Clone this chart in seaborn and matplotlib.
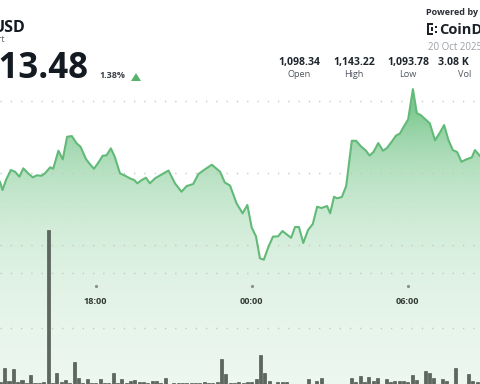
import numpy as np
import pandas as pd
import matplotlib
matplotlib.use("Agg")
import matplotlib.pyplot as plt
from matplotlib.patches import PathPatch, Polygon, Rectangle
import seaborn as sns

# ---------------- data ----------------
# price line: minutes relative to 20 Oct 00:00, price in USD
price_minutes = [-581, -575, -567, -556, -546, -536, -527, -516, -505, -496,
                 -485, -477, -465, -458, -446, -436, -426, -415, -404, -395,
                 -382, -373, -364, -354, -344, -335, -325, -316, -304, -292,
                 -281, -271, -264, -254, -244, -235, -223, -212, -192, -177,
                 -162, -150, -135, -123, -108, -92, -73, -62, -50, -35,
                 -21, -10, 0, 10, 19, 28, 38, 49, 61, 71,
                 81, 91, 100, 109, 119, 130, 141, 151, 161, 174,
                 181, 190, 197, 208, 218, 231, 241, 252, 263, 272,
                 281, 292, 303, 312, 323, 333, 342, 351, 361, 372,
                 381, 390, 401, 411, 423, 434, 444, 454, 464, 474,
                 484, 497, 508, 515, 527]
price_values = [1117.59, 1115.30, 1118.06, 1120.83, 1120.36, 1118.98, 1121.30, 1119.92, 1118.81, 1119.36,
                1119.25, 1119.92, 1121.58, 1121.19, 1126.17, 1123.79, 1130.04, 1130.23, 1128.22, 1127.28,
                1123.79, 1122.41, 1121.19, 1122.85, 1124.79, 1124.90, 1126.83, 1124.51, 1119.92, 1119.25,
                1118.53, 1118.06, 1117.15, 1118.06, 1118.70, 1117.15, 1118.53, 1119.31, 1120.69, 1117.15,
                1114.83, 1116.40, 1116.96, 1119.72, 1121.02, 1122.30, 1120.36, 1117.37, 1116.54, 1111.62,
                1108.85, 1111.15, 1104.92, 1102.43, 1096.40, 1096.02, 1099.39, 1102.38, 1102.49, 1103.95,
                1102.99, 1102.07, 1105.06, 1105.06, 1100.64, 1104.23, 1105.89, 1110.68, 1110.32, 1110.87,
                1108.85, 1113.44, 1113.00, 1113.36, 1116.40, 1128.93, 1128.93, 1127.39, 1126.28, 1124.84,
                1125.81, 1128.30, 1126.17, 1126.92, 1128.66, 1130.37, 1130.93, 1132.86, 1134.85, 1143.22,
                1136.60, 1136.04, 1134.85, 1133.75, 1129.05, 1131.15, 1133.28, 1129.13, 1126.36, 1125.81,
                1123.13, 1123.87, 1124.34, 1126.36, 1124.70]

# volume bars: 10-minute candles
bar_minutes = list(range(-580, 530, 10))
bar_volumes = [4.1, 28.3, 5.9, 26.5, 4.1, 7.2, 2.7, 16.2, 2.3, 1.3,
               4.1, 277, 2.3, 20.3, 4.1, 7.2, 1.3, 40.1, 11.3, 1.3,
               8.5, 1.3, 1.3, 8.5, 1.3, 2.3, 19.3, 2.3, 8.5, 1.3,
               4.9, 7.2, 3.6, 3.6, 1.3, 4.9, 4.9, 1.3, 10.3, 0.5,
               1.3, 2.3, 1.3, 2.3, 2.3, 1.3, 2.3, 4.1, 1.3, 2.3,
               4.1, 44.5, 18.0, 2.3, 2.3, 3.6, 1.3, 4.1, 4.1, 8.5,
               52.2, 19.3, 5.9, 0.5, 4.1, 4.1, 4.1, 0.5, 0.5, 0.5,
               0.5, 8.5, 0.5, 5.4, 10.8, 0.5, 0.5, 0.5, 0.9, 0.5,
               0.5, 11.7, 4.1, 14.8, 4.1, 13.1, 6.3, 10.3, 0.5, 8.5,
               4.0, 5.8, 5.8, 5.8, 4.0, 16.2, 7.7, 0.5, 23.9, 19.8,
               11.7, 0.5, 9.9, 5.0, 0.5, 29.7, 0.5, 0.5, 18.9, 4.9, 4.1]

tick_minutes = [-360, 0, 360]
tick_labels = ["18:00", "00:00", "06:00"]
price_grid = [1140, 1120, 1100]
volume_grid = [100, 200]

stat_values = ["1,098.34", "1,143.22", "1,093.78", "3.08 K"]
stat_names = ["Open", "High", "Low", "Vol"]

# ---------------- style ----------------
sns.set_theme(style="white")
plt.rcParams['font.family'] = ['Open Sans', 'DejaVu Sans']

LINE = "#62ba78"
FILL = (0.40, 0.75, 0.49)
GRID = "#c3c6c4"
W, H = 480, 384

fig = plt.figure(figsize=(4.8, 3.84), dpi=100)
fig.patch.set_facecolor("white")
ax = fig.add_axes([0, 0, 1, 1])
ax.set_facecolor("none")
ax2 = ax.twinx()
ax2.set_facecolor("none")

XMIN, XMAX = -580.8, 526.8
PMIN, PMAX = 1061.6, 1167.9
VMAX = 691.2

df = pd.DataFrame({"minute": price_minutes, "price": price_values})
vdf = pd.DataFrame({"minute": bar_minutes, "volume": bar_volumes})

# gradient area under the price line
poly = ax.fill_between(df["minute"], df["price"], PMIN, facecolor="none", edgecolor="none")
clip = PathPatch(poly.get_paths()[0], transform=ax.transData, facecolor="none", edgecolor="none")
ax.add_patch(clip)
ys = np.arange(H) + 0.5
alpha = 0.08 + 0.75 * np.exp(-(ys - 110) / 95.0)
alpha = np.clip(alpha, 0, 0.85)
grad = np.zeros((H, 1, 4))
grad[:, 0, 0], grad[:, 0, 1], grad[:, 0, 2] = FILL
grad[:, 0, 3] = alpha
im = ax.imshow(grad, extent=[XMIN, XMAX, PMIN, PMAX], origin="upper",
               aspect="auto", zorder=1, interpolation="bilinear")
im.set_clip_path(clip)

for v in price_grid:
    ax.axhline(v, color=GRID, lw=1.0, ls=(0, (0.9, 6.5)), zorder=2)

sns.lineplot(data=df, x="minute", y="price", ax=ax, color=LINE, linewidth=1.5,
             errorbar=None, zorder=3)

# volume bars
sns.barplot(data=vdf, x="minute", y="volume", ax=ax2, native_scale=True,
            color="#5d675f", saturation=1, width=0.7, errorbar=None,
            edgecolor="#3f4742", linewidth=0.4, zorder=3)
for v in volume_grid:
    ax2.axhline(v, color=GRID, lw=1.0, ls=(0, (0.9, 6.5)), zorder=1)

ax.set_xlim(XMIN, XMAX)
ax.set_ylim(PMIN, PMAX)
ax2.set_ylim(0, VMAX)
ax2.set_xlim(XMIN, XMAX)
for a in (ax, ax2):
    a.set_axis_off()

# time ticks
xt = ax.get_xaxis_transform()
ax.plot(tick_minutes, [1 - 286 / H] * len(tick_minutes), transform=xt, ls="none",
        marker="o", ms=1.3, color="#8a8f8c", zorder=4)
for m, lab in zip(tick_minutes, tick_labels):
    ax.text(m, 1 - 301.5 / H, lab, transform=xt, ha="center", va="center",
            fontsize=6.6, fontweight="bold", color="#333a36", zorder=4)

# ---------------- header ----------------
def fx(x):
    return x / W

def fy(y):
    return 1 - y / H

fig.text(fx(25.5), fy(32), "USD", ha="right", va="baseline", fontsize=11.5,
         fontweight="bold", color="#141a22")
fig.text(fx(5), fy(42), "Chart", ha="right", va="baseline", fontsize=6.3,
         color="#5b6068")
fig.text(fx(88), fy(78), "1,113.48", ha="right", va="baseline", fontsize=25,
         fontweight="bold", color="#141a22")
fig.text(fx(99), fy(78), "1.38%", ha="left", va="baseline", fontsize=6.5,
         fontweight="bold", color="#3a4048")
tri = Polygon([[fx(131), fy(81)], [fx(141), fy(81)], [fx(136), fy(73)]],
              closed=True, transform=fig.transFigure, facecolor="#55b36c", edgecolor="none")
fig.add_artist(tri)

fig.text(fx(426), fy(15), "Powered by", ha="left", va="baseline", fontsize=6.5,
         fontweight="bold", color="#2b2f35")
# logo mark
for (x0, y0, w, h) in [(426.5, 23, 2, 12), (426.5, 23, 6, 2), (426.5, 33, 6, 2),
                       (430.5, 27, 2, 4), (434.5, 26, 2, 2), (434.5, 31, 2, 2)]:
    fig.add_artist(Rectangle((fx(x0), fy(y0 + h)), w / W, h / H,
                             transform=fig.transFigure, facecolor="#1c2128", edgecolor="none"))
fig.text(fx(439.5), fy(34), "CoinDesk", ha="left", va="baseline", fontsize=10.5,
         fontweight="bold", color="#1c2128")
fig.text(fx(428), fy(50), "20 Oct 2025", ha="left", va="baseline", fontsize=7,
         color="#9aa0a6")

stat_x = [299, 354, 408, 465]
for i, (val, name) in enumerate(zip(stat_values, stat_names)):
    if i < 3:
        fig.text(fx(stat_x[i]), fy(65), val, ha="center", va="baseline", fontsize=7.6,
                 fontweight="bold", color="#1f252c")
    else:
        fig.text(fx(438), fy(65), val, ha="left", va="baseline", fontsize=7.6,
                 fontweight="bold", color="#1f252c")
    fig.text(fx(stat_x[i]), fy(77), name, ha="center", va="baseline", fontsize=6.6,
             color="#4f555c")

fig.savefig("out.png", dpi=100)
